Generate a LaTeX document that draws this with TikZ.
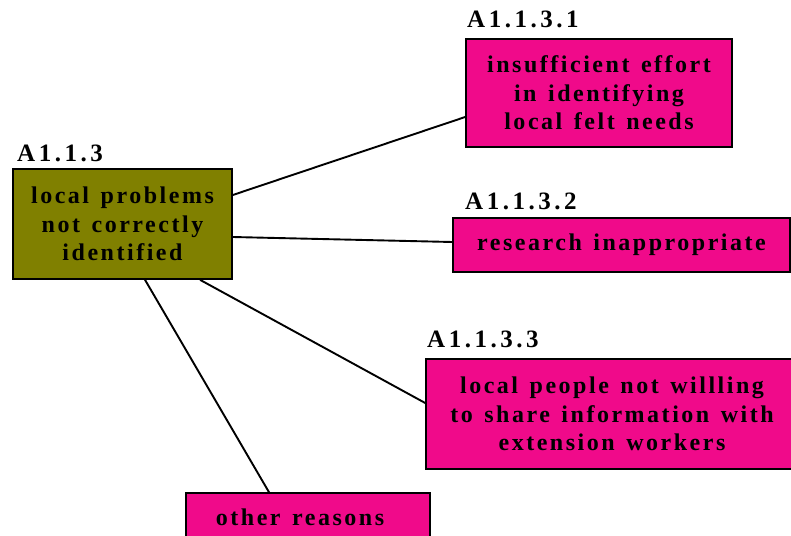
\documentclass[tikz,border=0pt]{standalone}
\usepackage{fontspec}
\setmainfont{Liberation Serif}
\newfontfamily\boxfont[LetterSpace=10.5,WordSpace=1.35]{Liberation Serif}
\newfontfamily\tagfont[LetterSpace=14]{Liberation Serif}
\definecolor{olivebox}{HTML}{808000}
\definecolor{pinkbox}{HTML}{F00A8A}
\begin{document}
\begin{tikzpicture}[x=1pt,y=-1pt,
  causebox/.style={draw=black,line width=1.6pt,inner sep=0pt,align=center,
    font=\boxfont\bfseries\fontsize{24}{28.5}\selectfont},
  mainbox/.style={causebox,fill=olivebox},
  subbox/.style={causebox,fill=pinkbox},
  tag/.style={anchor=base west,inner sep=0pt,font=\tagfont\bfseries\fontsize{25}{30}\selectfont},
  link/.style={line width=1.9pt}]
\useasboundingbox (0,0) rectangle (791,535);

% main problem
\node[mainbox,minimum width=219pt,minimum height=110pt] (main) at (122.5,224)
  {local problems\\not correctly\\identified};
\node[tag] (tmain) at (17,161) {A1.1.3};

% contributing causes
\node[subbox,minimum width=266pt,minimum height=108pt] (c1) at (599,93)
  {insufficient effort\\in identifying\\local felt needs};
\node[tag] (t1) at (467,28) {A1.1.3.1};

\node[subbox,minimum width=337pt,minimum height=54pt] (c2) at (621.5,245)
  {research inappropriate};
\node[tag] (t2) at (465,209) {A1.1.3.2};

\node[subbox,minimum width=372pt,minimum height=110pt] (c3) at (612,414)
  {local people not willling\\to share information with\\extension workers};
\node[tag] (t3) at (427,347) {A1.1.3.3};

\node[subbox,minimum width=244pt,minimum height=48pt] (c4) at (308,517)
  {other reasons\hspace*{16pt}};

% links from the main problem to its causes
\draw[link] ([yshift=29pt]main.east) -- ([yshift=-24pt]c1.west);
\draw[link] ([yshift=-13pt]main.east) -- ([yshift=3pt]c2.west);
\draw[link] ([xshift=77.5pt]main.south) -- ([yshift=11pt]c3.west);
\draw[link] ([xshift=22.5pt]main.south) -- ([xshift=-39pt]c4.north);
\end{tikzpicture}
\end{document}
